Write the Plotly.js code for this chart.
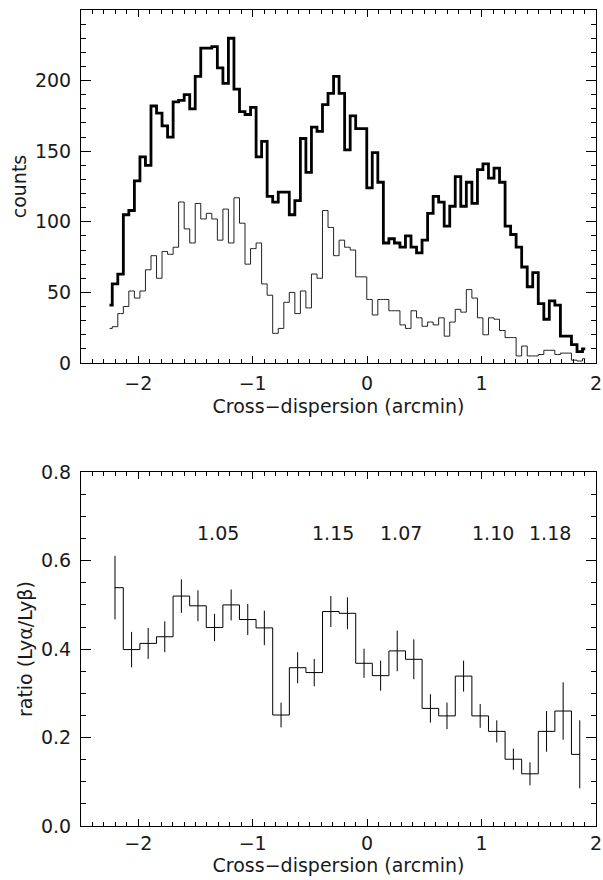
<!DOCTYPE html>
<html>
<head>
<meta charset="utf-8">
<script src="https://cdn.plot.ly/plotly-3.0.1.min.js"></script>
<style>
  html, body { margin: 0; padding: 0; background: #ffffff; }
  #chart { width: 603px; height: 880px; }
</style>
</head>
<body>
<div id="chart"></div>
<script>
// Cross-dispersion positions (arcmin) of the fine bins
const xFine = [
  -2.251, -2.203, -2.154, -2.106, -2.058, -2.009, -1.961, -1.913, -1.864, -1.816,
  -1.768, -1.719, -1.671, -1.623, -1.574, -1.526, -1.478, -1.429, -1.381, -1.333,
  -1.284, -1.236, -1.188, -1.139, -1.091, -1.043, -0.994, -0.946, -0.898, -0.849,
  -0.801, -0.752, -0.704, -0.656, -0.607, -0.559, -0.511, -0.462, -0.414, -0.366,
  -0.317, -0.269, -0.221, -0.172, -0.124, -0.076, -0.027, 0.021, 0.069, 0.118,
  0.166, 0.214, 0.263, 0.311, 0.359, 0.408, 0.456, 0.504, 0.553, 0.601,
  0.649, 0.698, 0.746, 0.794, 0.843, 0.891, 0.940, 0.988, 1.036, 1.085,
  1.133, 1.181, 1.230, 1.278, 1.326, 1.375, 1.423, 1.471, 1.520, 1.568,
  1.616, 1.665, 1.713, 1.761, 1.810, 1.858, 1.906
];

// Counts, thick histogram
const countsThick = [
  41, 56, 63, 105, 108, 129, 146, 140, 182, 177,
  168, 160, 185, 186, 190, 180, 203, 223, 223, 224,
  209, 198, 230, 194, 178, 176, 181, 146, 157, 118,
  114, 121, 121, 105, 115, 159, 135, 167, 164, 183,
  191, 203, 191, 151, 175, 166, 166, 124, 149, 128,
  85, 88, 85, 82, 90, 82, 78, 87, 106, 118,
  114, 97, 111, 132, 111, 128, 113, 137, 141, 131,
  138, 128, 97, 91, 82, 68, 54, 64, 42, 31,
  44, 41, 19, 19, 13, 8, 10
];

// Counts, thin histogram
const countsThin = [
  24.5, 25.7, 35, 40, 51, 46, 51, 66, 76, 60,
  79, 77, 82, 114, 95, 85, 113, 102, 106, 102,
  87, 109, 85, 117, 99, 70, 81, 85, 56, 48,
  21, 24.5, 43, 50, 35, 51, 39, 63, 60, 108,
  96, 76, 87, 82, 80, 61, 61, 45, 34, 45,
  45, 37, 37, 27, 24.5, 37, 32, 26, 29, 27,
  32, 19, 29, 38, 36, 52, 46, 32, 20, 32,
  31, 23, 18, 18, 5, 12, 5, 5, 6, 9,
  9, 6, 7, 7, 2, 1.4, 3
];

// Coarse bins for the ratio panel
const xRatio = [
  -2.203, -2.058, -1.913, -1.768, -1.623, -1.478, -1.333, -1.188, -1.043, -0.898,
  -0.752, -0.607, -0.462, -0.317, -0.172, -0.027, 0.118, 0.263, 0.408, 0.553,
  0.698, 0.843, 0.988, 1.133, 1.278, 1.423, 1.568, 1.713, 1.858
];
const ratio = [
  0.539, 0.399, 0.413, 0.428, 0.520, 0.498, 0.449, 0.500, 0.467, 0.448,
  0.251, 0.358, 0.347, 0.485, 0.481, 0.368, 0.340, 0.396, 0.377, 0.266,
  0.249, 0.339, 0.249, 0.214, 0.151, 0.118, 0.214, 0.260, 0.162
];
const ratioErr = [
  0.072, 0.040, 0.035, 0.035, 0.038, 0.035, 0.031, 0.035, 0.035, 0.039,
  0.028, 0.035, 0.031, 0.035, 0.036, 0.033, 0.034, 0.046, 0.045, 0.032,
  0.030, 0.035, 0.027, 0.025, 0.024, 0.026, 0.046, 0.065, 0.077
];

// Labels printed above the ratio curve
const labelText = ["1.05", "1.15", "1.07", "1.10", "1.18"];
const labelX = [-1.30, -0.30, 0.30, 1.10, 1.60];
const labelY = [0.663, 0.663, 0.663, 0.663, 0.663];

const FONT = "DejaVu Sans, sans-serif";
const FS = 19;
const TXT = "#1a1a1a";

const traces = [
  {
    x: xFine, y: countsThin, type: "scatter", mode: "lines",
    line: { shape: "hvh", color: "#222222", width: 1 },
    xaxis: "x", yaxis: "y", hoverinfo: "skip"
  },
  {
    x: xFine, y: countsThick, type: "scatter", mode: "lines",
    line: { shape: "hvh", color: "#000000", width: 2.8 },
    xaxis: "x", yaxis: "y", hoverinfo: "skip"
  },
  {
    x: xRatio, y: ratio, type: "scatter", mode: "lines",
    line: { shape: "hvh", color: "#000000", width: 1 },
    error_y: { type: "data", array: ratioErr, visible: true, width: 0, thickness: 1, color: "#000000" },
    xaxis: "x2", yaxis: "y2", hoverinfo: "skip"
  }
];

function xAxis(anchor, labelStandoff, titleStandoff) {
  return {
    anchor: anchor, range: [-2.5, 2], dtick: 1, tick0: 0,
    ticks: "inside", ticklen: 7, tickwidth: 1, tickcolor: "#000",
    minor: { dtick: 0.1, tick0: 0, ticks: "inside", ticklen: 4, tickwidth: 1, tickcolor: "#000", showgrid: false },
    showline: true, linecolor: "#000", linewidth: 1, mirror: "ticks",
    showgrid: false, zeroline: false,
    tickfont: { family: FONT, size: FS, color: TXT },
    ticklabelstandoff: labelStandoff,
    title: { text: "Cross\u2212dispersion (arcmin)", font: { family: FONT, size: FS, color: TXT }, standoff: titleStandoff },
    automargin: false
  };
}

function yAxis(domain, anchor, range, dtick, minorDtick, fmt, titleText) {
  return {
    domain: domain, anchor: anchor, range: range, dtick: dtick, tick0: 0, tickformat: fmt,
    ticks: "inside", ticklen: 10, tickwidth: 1, tickcolor: "#000",
    minor: { dtick: minorDtick, tick0: 0, ticks: "inside", ticklen: 5, tickwidth: 1, tickcolor: "#000", showgrid: false },
    showline: true, linecolor: "#000", linewidth: 1, mirror: "ticks",
    showgrid: false, zeroline: false,
    tickfont: { family: FONT, size: FS, color: TXT },
    ticklabelstandoff: 5,
    title: { text: titleText, font: { family: FONT, size: FS, color: TXT }, standoff: 3 },
    automargin: false
  };
}

const layout = {
  width: 603, height: 880,
  margin: { l: 81, r: 7, t: 10, b: 54 },
  paper_bgcolor: "#ffffff", plot_bgcolor: "#ffffff",
  showlegend: false,
  font: { family: FONT, size: FS, color: TXT },
  xaxis: xAxis("y", 3, 6),
  xaxis2: xAxis("y2", 0, 2),
  yaxis: yAxis([0.5674, 1], "x", [0, 250], 50, 10, "", "counts"),
  yaxis2: yAxis([0, 0.4335], "x2", [0, 0.8], 0.2, 0.05, ".1f", "ratio (Ly\u03b1/Ly\u03b2)"),
  annotations: labelText.map((t, i) => ({
    x: labelX[i], y: labelY[i], xref: "x2", yref: "y2", text: t, showarrow: false,
    font: { family: FONT, size: FS, color: TXT }, xanchor: "center", yanchor: "middle"
  }))
};

Plotly.newPlot("chart", traces, layout, { staticPlot: true, displayModeBar: false });
</script>
</body>
</html>
